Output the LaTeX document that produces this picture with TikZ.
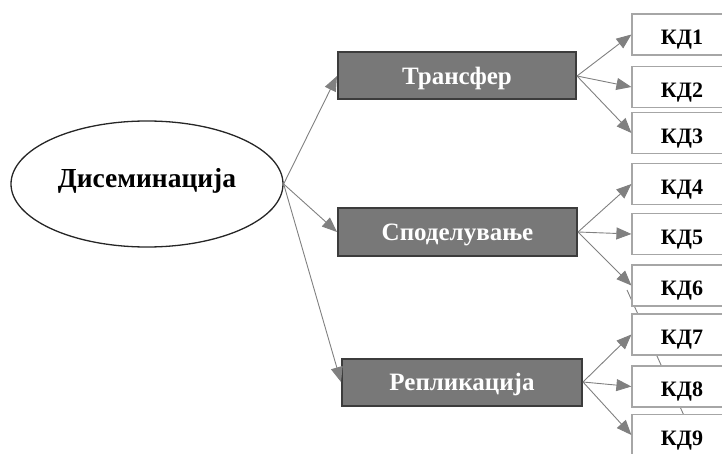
\documentclass[tikz,border=0pt]{standalone}
\usepackage{fontspec}
\setmainfont{Liberation Serif}
\usetikzlibrary{arrows.meta,shapes.geometric}
\definecolor{boxfill}{HTML}{787878}
\definecolor{boxline}{HTML}{3C3C3C}
\definecolor{kdline}{HTML}{A6A6A6}
\definecolor{arrgray}{HTML}{808080}

\begin{document}
\begin{tikzpicture}[x=1pt,y=-1pt,line width=.35pt,
  root/.style={ellipse,draw=black!85,line width=1.3pt,minimum width=272pt,minimum height=126pt,inner sep=0pt,text height=18.7pt,text depth=11.5pt,font=\fontsize{27.5}{30}\selectfont\bfseries},
  mid/.style={rectangle,draw=boxline,fill=boxfill,line width=2pt,text=white,minimum height=47pt,inner sep=0pt,text height=19pt,text depth=1.4pt,font=\fontsize{25}{28}\selectfont\bfseries},
  kd/.style={rectangle,draw=kdline,fill=white,line width=1.2pt,minimum width=100pt,minimum height=41pt,inner sep=0pt,text height=22pt,text depth=1.4pt,font=\fontsize{22}{25}\selectfont\bfseries},
  arr/.style={draw=arrgray,line width=.9pt,-{Triangle[length=15pt,width=12pt]},color=arrgray}]
\useasboundingbox (0,0) rectangle (722,454);
\clip (0,0) rectangle (722,454);
% line partly hidden behind the right boxes
\coordinate (hidA) at (627,290);
\coordinate (hidB) at (686,420);
\draw[arrgray,line width=.9pt] (hidA) -- (hidB);
\node[root] (dis) at (147,184) {Дисеминација};
\node[mid,minimum width=238pt] (tr) at (457,76) {Трансфер};
\node[mid,minimum width=239pt] (sp) at (457.5,232) {Споделување};
\node[mid,minimum width=240pt] (rep) at (462,382) {Репликација};
\node[kd] (kd1) at (682,34.5) {КД1};
\node[kd] (kd2) at (682,87) {КД2};
\node[kd] (kd3) at (682,133) {КД3};
\node[kd] (kd4) at (682,184) {КД4};
\node[kd] (kd5) at (682,234) {КД5};
\node[kd] (kd6) at (682,285.5) {КД6};
\node[kd] (kd7) at (682,334.5) {КД7};
\node[kd] (kd8) at (682,386.5) {КД8};
\node[kd] (kd9) at (682,435) {КД9};
\draw[arr] (dis.east) -- (tr.west);
\draw[arr] (dis.east) -- (sp.west);
\draw[arr] (dis.east) -- (rep.west);
\draw[arr] (tr.east) -- (kd1.west);
\draw[arr] (tr.east) -- (kd2.west);
\draw[arr] (tr.east) -- (kd3.west);
\draw[arr] (sp.east) -- (kd4.west);
\draw[arr] (sp.east) -- (kd5.west);
\draw[arr] (sp.east) -- (kd6.west);
\draw[arr] (rep.east) -- (kd7.west);
\draw[arr] (rep.east) -- (kd8.west);
\draw[arr] (rep.east) -- (kd9.west);
\end{tikzpicture}
\end{document}
